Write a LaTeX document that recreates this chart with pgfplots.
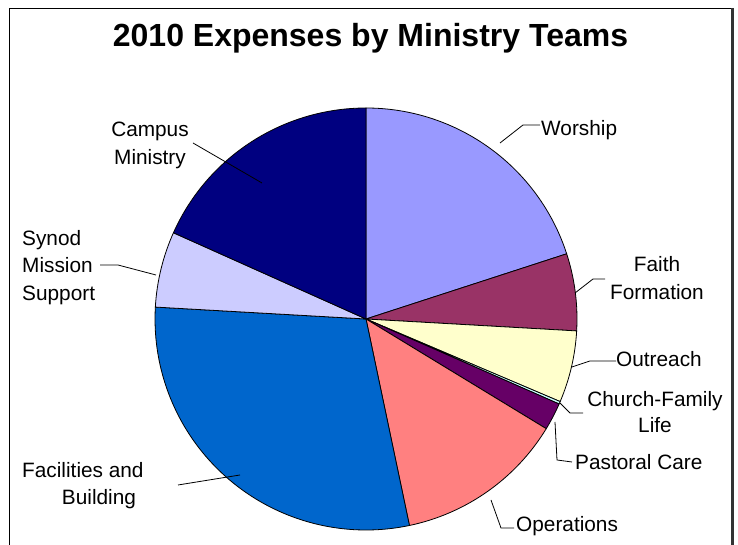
\documentclass[border=0pt]{standalone}
\usepackage{pgfplots}
\pgfplotsset{compat=1.18}
\usepackage{pgfplotstable}
\usepackage{fontspec}
\setmainfont{Liberation Sans}
\definecolor{cWorship}{HTML}{9999FF}
\definecolor{cFaith}{HTML}{993366}
\definecolor{cOutreach}{HTML}{FFFFCC}
\definecolor{cChurch}{HTML}{CCFFFF}
\definecolor{cPastoral}{HTML}{660066}
\definecolor{cOperations}{HTML}{FF8080}
\definecolor{cFacilities}{HTML}{0066CC}
\definecolor{cSynod}{HTML}{CCCCFF}
\definecolor{cCampus}{HTML}{000080}

% shares in percent, clockwise from 12 o'clock
\pgfplotstableread[col sep=comma]{
team,value,col
Worship,20.0,cWorship
Faith Formation,5.9,cFaith
Outreach,5.5,cOutreach
Church-Family Life,0.2,cChurch
Pastoral Care,2.1,cPastoral
Operations,13.0,cOperations
Facilities and Building,29.2,cFacilities
Synod Mission Support,5.8,cSynod
Campus Ministry,18.3,cCampus
}\datatable

\begin{document}
\begin{tikzpicture}
\useasboundingbox (0,0) rectangle (738bp,545bp);
% precompute slice angles from the table
\pgfplotstablegetrowsof{\datatable}
\pgfmathtruncatemacro{\lastrow}{\pgfplotsretval-1}
\gdef\cum{0}
\foreach \i in {0,...,\lastrow}{
  \pgfplotstablegetelem{\i}{value}\of\datatable
  \pgfmathsetmacro{\v}{\pgfplotsretval}
  \pgfmathsetmacro{\sa}{90-3.6*\cum}
  \pgfmathsetmacro{\ea}{90-3.6*(\cum+\v)}
  \expandafter\xdef\csname sa\i\endcsname{\sa}
  \expandafter\xdef\csname ea\i\endcsname{\ea}
  \pgfplotstablegetelem{\i}{col}\of\datatable
  \expandafter\xdef\csname col\i\endcsname{\pgfplotsretval}
  \pgfmathsetmacro{\newcum}{\cum+\v}
  \xdef\cum{\newcum}
}
\begin{axis}[
  at={(366bp,226bp)}, anchor=origin,
  x=211bp, y=211bp,
  xmin=-1, xmax=1, ymin=-1, ymax=1,
  hide axis, clip=false,
]
\pgfplotsinvokeforeach{0,...,8}{
  \filldraw[draw=black, line width=0.8bp, line join=round, fill=\csname col#1\endcsname]
    (axis cs:0,0) -- (axis cs:{cos(\csname sa#1\endcsname)},{sin(\csname sa#1\endcsname)})
    arc[start angle=\csname sa#1\endcsname, end angle=\csname ea#1\endcsname, radius=211bp] -- cycle;
}
\end{axis}
\begin{scope}[x=1bp, y=-1bp, yshift=545bp]
  % frame
  \draw[line width=1bp] (9.5,546) -- (9.5,8.5) -- (732,8.5);
  \draw[line width=2.2bp, black!80] (732.5,8) -- (732.5,546);
  % title
  \node[anchor=base, inner sep=0, font=\fontsize{32bp}{36bp}\selectfont\bfseries] at (370.5,47) {2010 Expenses by Ministry Teams};
  \begin{scope}[every node/.style={inner sep=0, font=\fontsize{20.8bp}{25bp}\selectfont}]
    \node[anchor=base west] at (541,136) {Worship};
    \node[anchor=base] at (657,272) {Faith};
    \node[anchor=base] at (657,300) {Formation};
    \node[anchor=base west] at (616,367) {Outreach};
    \node[anchor=base] at (655,407) {Church-Family};
    \node[anchor=base] at (655,433) {Life};
    \node[anchor=base west] at (575,470) {Pastoral Care};
    \node[anchor=base west] at (516,532) {Operations};
    \node[anchor=base west] at (22,478) {Facilities and};
    \node[anchor=base] at (99,505) {Building};
    \node[anchor=base west] at (22,246) {Synod};
    \node[anchor=base west] at (22,273) {Mission};
    \node[anchor=base west] at (22,301) {Support};
    \node[anchor=base] at (150,137) {Campus};
    \node[anchor=base] at (150,165) {Ministry};
  \end{scope}
  % leader lines
  \begin{scope}[line width=0.8bp]
    \draw (500,143) -- (523,125) -- (540,125);
    \draw (575,293) -- (593,279) -- (605,279);
    \draw (572,367) -- (590,361) -- (616,361);
    \draw (560,403) -- (570,413) -- (583,413);
    \draw (555,422) -- (557,460) -- (572,462);
    \draw (491,500) -- (501,528) -- (514,528);
    \draw (178,485) -- (240,475);
    \draw (100,265) -- (118,265) -- (156,275);
    \draw (193,143) -- (262,183);
  \end{scope}
\end{scope}
\end{tikzpicture}
\end{document}
